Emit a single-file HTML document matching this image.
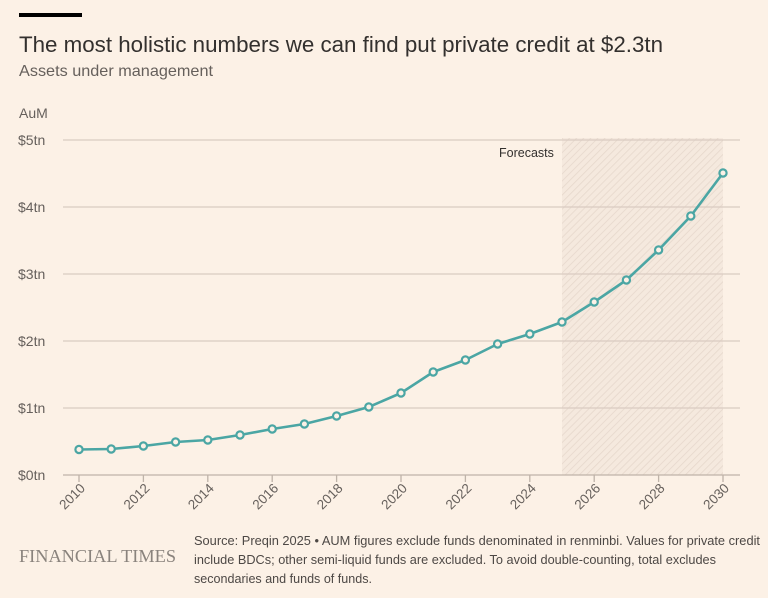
<!DOCTYPE html>
<html><head><meta charset="utf-8"><style>
html,body{margin:0;padding:0;background:#fcf1e6;}
body{width:768px;height:593px;overflow:hidden;font-family:"Liberation Sans",sans-serif;}
</style></head><body>
<svg width="768" height="593" viewBox="0 0 768 593" xmlns="http://www.w3.org/2000/svg">
<defs>
<pattern id="hatch" width="5" height="5" patternUnits="userSpaceOnUse" patternTransform="rotate(45)">
<rect width="5" height="5" fill="#f5e9de"/>
<line x1="0" y1="0" x2="0" y2="5" stroke="#e6d8cc" stroke-width="1.6"/>
</pattern>
</defs>
<rect width="768" height="593" fill="#fcf1e6"/>
<rect x="19" y="13" width="63" height="4" fill="#000"/>
<text x="19" y="52" font-size="22" fill="#33302e" textLength="644" lengthAdjust="spacingAndGlyphs">The most holistic numbers we can find put private credit at $2.3tn</text>
<text x="19" y="76" font-size="16" fill="#66605c" textLength="194" lengthAdjust="spacingAndGlyphs">Assets under management</text>
<text x="19" y="118" font-size="14" fill="#66605c">AuM</text>
<rect x="562" y="138" width="161" height="337" fill="url(#hatch)"/>
<text x="499" y="157" font-size="12.5" fill="#33302e">Forecasts</text>
<g stroke="#d9ccc1" stroke-width="1.3">
<line x1="63" y1="140" x2="740" y2="140"/>
<line x1="63" y1="207" x2="740" y2="207"/>
<line x1="63" y1="274" x2="740" y2="274"/>
<line x1="63" y1="341" x2="740" y2="341"/>
<line x1="63" y1="408" x2="740" y2="408"/>
</g>
<line x1="63" y1="475" x2="740" y2="475" stroke="#bfb3a9" stroke-width="1.3"/>
<g font-size="14" fill="#66605c">
<text x="18" y="145">$5tn</text>
<text x="18" y="212">$4tn</text>
<text x="18" y="279">$3tn</text>
<text x="18" y="346">$2tn</text>
<text x="18" y="413">$1tn</text>
<text x="18" y="480">$0tn</text>
</g>
<g stroke="#bfb3a9" stroke-width="1.3">
<line x1="79" y1="475" x2="79" y2="482"/><line x1="143.4" y1="475" x2="143.4" y2="482"/>
<line x1="207.8" y1="475" x2="207.8" y2="482"/><line x1="272.2" y1="475" x2="272.2" y2="482"/>
<line x1="336.6" y1="475" x2="336.6" y2="482"/><line x1="401" y1="475" x2="401" y2="482"/>
<line x1="465.4" y1="475" x2="465.4" y2="482"/><line x1="529.8" y1="475" x2="529.8" y2="482"/>
<line x1="594.2" y1="475" x2="594.2" y2="482"/><line x1="658.6" y1="475" x2="658.6" y2="482"/>
<line x1="723" y1="475" x2="723" y2="482"/>
</g>
<g font-size="13.5" fill="#66605c" text-anchor="end">
<text transform="translate(86,489) rotate(-45)">2010</text>
<text transform="translate(150.4,489) rotate(-45)">2012</text>
<text transform="translate(214.8,489) rotate(-45)">2014</text>
<text transform="translate(279.2,489) rotate(-45)">2016</text>
<text transform="translate(343.6,489) rotate(-45)">2018</text>
<text transform="translate(408,489) rotate(-45)">2020</text>
<text transform="translate(472.4,489) rotate(-45)">2022</text>
<text transform="translate(536.8,489) rotate(-45)">2024</text>
<text transform="translate(601.2,489) rotate(-45)">2026</text>
<text transform="translate(665.6,489) rotate(-45)">2028</text>
<text transform="translate(730,489) rotate(-45)">2030</text>
</g>
<polyline fill="none" stroke="#4ba6a4" stroke-width="2.6" stroke-linejoin="round" points="79,449.5 111.2,449 143.4,446 175.6,442 207.8,440 240,435 272.2,429 304.4,424 336.6,416 368.8,407 401,393 433.2,372 465.4,360 497.6,344 529.8,334 562,322 594.2,302 626.4,280 658.6,250 690.8,216 723,173"/>
<g fill="#fcf1e6" stroke="#4ba6a4" stroke-width="2.2">
<circle cx="79" cy="449.5" r="3.6"/><circle cx="111.2" cy="449" r="3.6"/><circle cx="143.4" cy="446" r="3.6"/>
<circle cx="175.6" cy="442" r="3.6"/><circle cx="207.8" cy="440" r="3.6"/><circle cx="240" cy="435" r="3.6"/>
<circle cx="272.2" cy="429" r="3.6"/><circle cx="304.4" cy="424" r="3.6"/><circle cx="336.6" cy="416" r="3.6"/>
<circle cx="368.8" cy="407" r="3.6"/><circle cx="401" cy="393" r="3.6"/><circle cx="433.2" cy="372" r="3.6"/>
<circle cx="465.4" cy="360" r="3.6"/><circle cx="497.6" cy="344" r="3.6"/><circle cx="529.8" cy="334" r="3.6"/>
<circle cx="562" cy="322" r="3.6"/><circle cx="594.2" cy="302" r="3.6"/><circle cx="626.4" cy="280" r="3.6"/>
<circle cx="658.6" cy="250" r="3.6"/><circle cx="690.8" cy="216" r="3.6"/><circle cx="723" cy="173" r="3.6"/>
</g>
<text x="19" y="562" font-family="'Liberation Serif',serif" font-size="18" fill="#8a837d" textLength="157" lengthAdjust="spacingAndGlyphs">FINANCIAL TIMES</text>
<g font-size="12.8" fill="#4d4845">
<text x="194" y="545" textLength="566" lengthAdjust="spacingAndGlyphs">Source: Preqin 2025 • AUM figures exclude funds denominated in renminbi. Values for private credit</text>
<text x="194" y="564" textLength="522" lengthAdjust="spacingAndGlyphs">include BDCs; other semi-liquid funds are excluded. To avoid double-counting, total excludes</text>
<text x="194" y="583" textLength="178" lengthAdjust="spacingAndGlyphs">secondaries and funds of funds.</text>
</g>
</svg>
</body></html>
